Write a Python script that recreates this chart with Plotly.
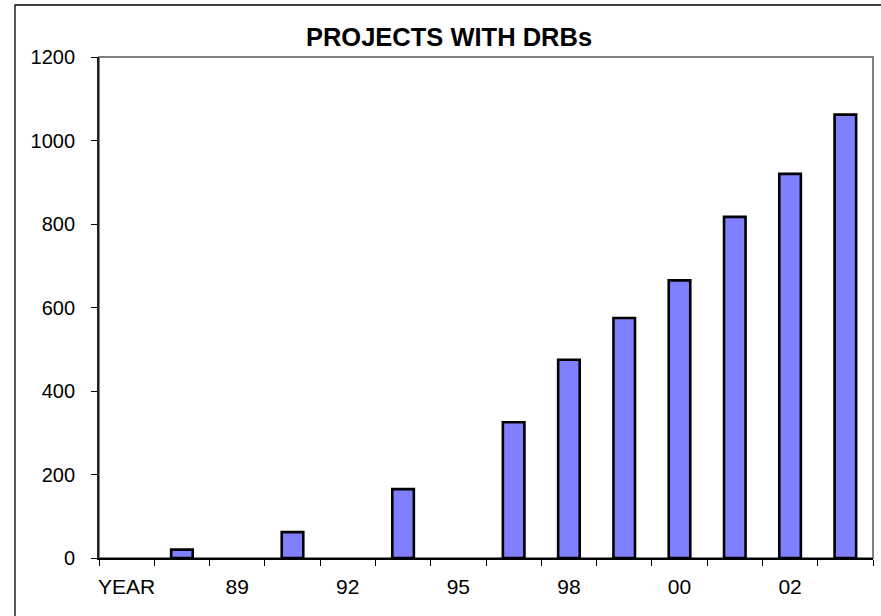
import plotly.graph_objects as go

# ---- data ----
categories = ["YEAR", "88", "89", "91", "92", "94", "95", "97", "98", "99", "00", "01", "02", "03"]
projects = [0, 20, 0, 62, 0, 165, 0, 325, 475, 575, 665, 817, 920, 1062]
shown_labels = ["YEAR", "", "89", "", "92", "", "95", "", "98", "", "00", "", "02", ""]
y_ticks = [0, 200, 400, 600, 800, 1000, 1200]

W, H = 881, 616
ML, MR, MT, MB = 99, 8, 57, 58
pw, ph = W - ML - MR, H - MT - MB

fig = go.Figure()
fig.add_trace(go.Bar(
    x=categories, y=projects,
    width=0.39,
    marker=dict(color="#8080FF",
                line=dict(color="black", width=[2.6 if v > 0 else 0 for v in projects])),
))

font = "Liberation Sans, Arial, sans-serif"
fig.update_layout(
    width=W, height=H,
    margin=dict(l=ML, r=MR, t=MT, b=MB, autoexpand=False),
    paper_bgcolor="white", plot_bgcolor="white",
    showlegend=False,
    font=dict(family=font, size=20, color="black"),
    title=dict(text="<b>PROJECTS WITH DRBs</b>", font=dict(family=font, size=25.5, color="black"),
               xref="paper", x=(449 - ML) / pw, xanchor="center",
               yref="container", y=1 - 37 / H, yanchor="middle", automargin=False),
    xaxis=dict(type="category", tickmode="array", tickvals=categories, ticktext=shown_labels,
               tickson="boundaries", ticks="outside", ticklen=6, tickcolor="black", tickwidth=1,
               showline=True, linecolor="black", linewidth=1.5, showgrid=False, tickangle=0,
               tickfont=dict(size=21),
               automargin=False, ticklabelstandoff=9, range=[-0.5, len(categories) - 0.5]),
    yaxis=dict(range=[0, 1200], tickmode="array", tickvals=y_ticks, ticks="outside", ticklen=6,
               tickcolor="black", tickwidth=1, showline=True, linecolor="#222222", linewidth=1.8,
               showgrid=False, zeroline=False, automargin=False, ticklabelstandoff=12),
    shapes=[
        # plot-area border (gray, top & right)
        dict(type="rect", xref="paper", yref="paper", x0=0, x1=1, y0=0, y1=1,
             line=dict(color="#808080", width=2), layer="below"),
        # outer chart frame
        dict(type="rect", xref="paper", yref="paper",
             x0=(15 - ML) / pw, x1=(W + 20 - ML) / pw,
             y0=-(MB + 20) / ph, y1=1 + (MT - 5) / ph,
             line=dict(color="black", width=1.3)),
    ],
)

fig.write_html("out.html", config={"displayModeBar": False},
               post_script="document.body.style.margin='0';document.body.style.overflow='hidden';")
